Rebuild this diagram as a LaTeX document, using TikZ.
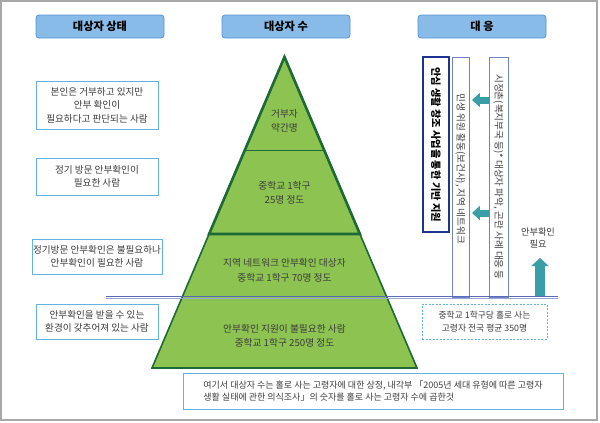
\documentclass[tikz,border=0pt]{standalone}
\usepackage{fontspec}
\setmainfont{Noto Sans CJK KR}
\usetikzlibrary{arrows.meta}
\definecolor{headfill}{HTML}{88BBE7}
\definecolor{headedge}{HTML}{5596D6}
\definecolor{boxedge}{HTML}{63B2E2}
\definecolor{pyrfill}{HTML}{8DC351}
\definecolor{pyredge}{HTML}{1D6A36}
\definecolor{navy}{HTML}{1E3290}
\definecolor{lilac}{HTML}{7183C8}
\definecolor{rulea}{HTML}{5A6CB6}
\definecolor{ruleb}{HTML}{9AA6D8}
\definecolor{tealarr}{HTML}{3A9EA7}
\definecolor{ink}{HTML}{3C3C3C}
\definecolor{framegray}{HTML}{A8A8A8}
\tikzstyle{header}=[draw=headedge, fill=headfill, line width=0.8pt, rounded corners=3pt, minimum width=128pt, minimum height=23pt, font=\fontsize{11.2}{13}\selectfont\bfseries]
\tikzstyle{statebox}=[draw=boxedge, line width=0.9pt, fill=white, minimum width=122pt, inner xsep=1pt, align=center, text=ink, font=\fontsize{9.6}{13.5}\selectfont]
\tikzstyle{pyrtext}=[align=center, text=ink, font=\fontsize{9.7}{14.5}\selectfont]
\tikzstyle{vbox}=[draw=lilac, line width=0.9pt, fill=white, rotate=-90, inner sep=0pt, text=ink, font=\fontsize{9.6}{11}\selectfont]
\tikzstyle{blockarrow}=[tealarr, line width=7pt, -{Triangle[width=14pt,length=8pt]}]

\begin{document}
\begin{tikzpicture}[x=1pt,y=-1pt]
\useasboundingbox (0,0) rectangle (600,423);
\draw[framegray, line width=1.5pt] (1,1) rectangle (597,420);

% headers
\node[header] (hstate) at (100,26.5) {대상자 상태};
\node[header] (hcount) at (286,26.5) {대상자 수};
\node[header] (hresp) at (482,26.5) {대 응};

% left column
\node[statebox, minimum height=48pt] (state1) at (97,105) {본인은 거부하고 있지만\\안부 확인이\\필요하다고 판단되는 사람};
\node[statebox, minimum height=37pt] (state2) at (97,176.5) {정기 방문 안부확인이\\필요한 사람};
\node[statebox, minimum height=35pt] (state3) at (97,256.5) {정기방문 안부확인은 불필요하나\\안부확인이 필요한 사람};
\node[statebox, minimum height=35pt] (state4) at (97,321.5) {안부확인을 받을 수 있는\\환경이 갖추어져 있는 사람};

% pyramid
\fill[pyrfill] (284.5,57) -- (152,368) -- (417,368) -- cycle;
\draw[pyredge, line width=1.6pt, line join=miter] (284.5,57) -- (152,368) -- (417,368) -- cycle;
\draw[pyredge, line width=0.8pt] (244.9,150) -- (324.1,150);
\draw[pyredge, line width=2.6pt, line join=miter] (284.5,57) -- (209.1,234) -- (359.9,234) -- cycle;
\node[pyrtext] (refusers) at (284.5,121) {거부자\\약간명};
\node[pyrtext] (visits) at (284.5,193) {중학교 1학구\\25명 정도};
\node[pyrtext] (network) at (284.5,270.5) {지역 네트워크 안부확인 대상자\\중학교 1학구 70명 정도};
\node[pyrtext] (nosupport) at (284.5,336) {안부확인 지원이 불필요한 사람\\중학교 1학구 250명 정도};

% response column
\node[vbox, draw=navy, line width=1.8pt, minimum width=175pt, minimum height=26pt, font=\fontsize{10.2}{11}\selectfont\bfseries, text=black] (anshim) at (436,144.5) {안심 생활 창조 사업을 통한 기반 지원};
\node[vbox, minimum width=240pt, minimum height=17pt] (minsaeng) at (460.5,177) {민생 위원 활동(보건사), 지역 네트워크\hspace*{16pt}};
\node[vbox, minimum width=240pt, minimum height=19pt] (sichon) at (498.5,177) {시정촌(복지부국 등)* 대상자 파악, 곤란 사례 대응 등};
\draw[blockarrow, shorten >=2.5pt] (sichon.south |- 0,100) -- (minsaeng.north |- 0,100);
\draw[blockarrow, shorten >=2.5pt] (sichon.south |- 0,213) -- (minsaeng.north |- 0,213);

% dividing line
\draw[rulea, line width=1.2pt] (106,296.4) -- (558,296.4);
\draw[ruleb, line width=0.9pt] (106,298.2) -- (558,298.2);

\node[align=center, text=ink, font=\fontsize{9.2}{12}\selectfont] (needlbl) at (538,237.5) {안부확인\\필요};
\coordinate (upfoot) at (540,295.5);
\coordinate (uptip) at (540,258);
\draw[tealarr, line width=10pt, -{Triangle[width=17pt,length=8pt]}] (upfoot) -- (uptip);

\node[draw=boxedge, dash pattern=on 2pt off 1.5pt, line width=0.9pt, minimum width=125pt, minimum height=35pt, align=center, text=ink, font=\fontsize{8.8}{12.5}\selectfont] (average) at (484.5,321.5) {중학교 1학구당 홀로 사는\\고령자 전국 평균 350명};

% note
\node[draw=boxedge, line width=0.9pt, minimum width=380pt, minimum height=36pt, align=left, text=ink, font=\fontsize{9}{12}\selectfont] (note) at (373,391) {여기서 대상자 수는 홀로 사는 고령자에 대한 상정, 내각부 「2005년 세대 유형에 따른 고령자\\생활 실태에 관한 의식조사」의 숫자를 홀로 사는 고령자 수에 곱한것};
\end{tikzpicture}
\end{document}
